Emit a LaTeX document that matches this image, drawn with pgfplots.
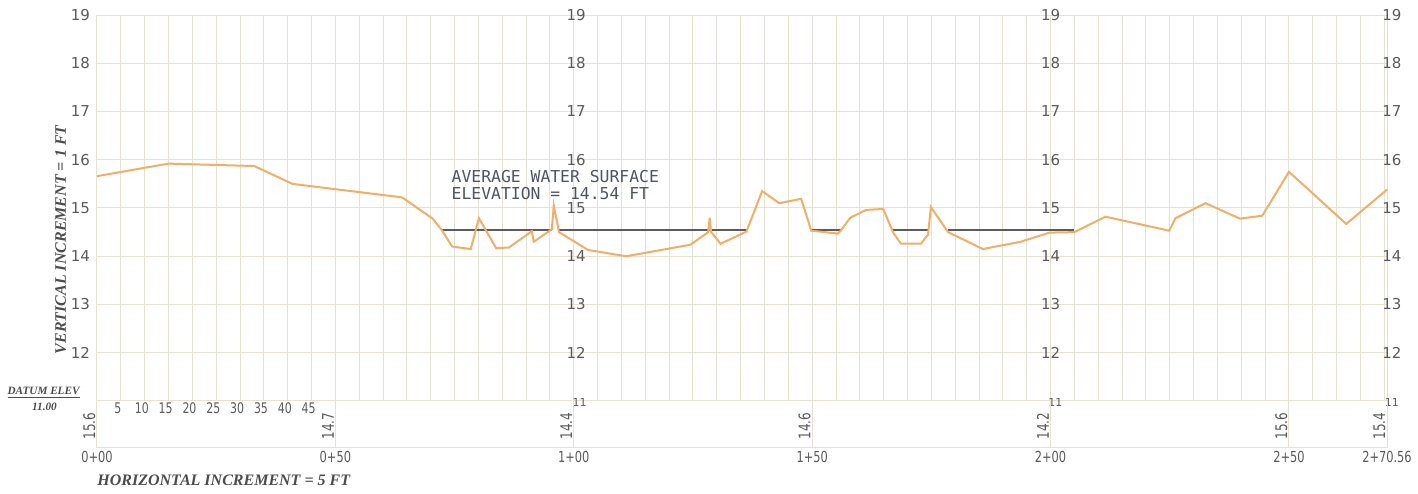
\documentclass[border=0pt]{standalone}
\usepackage{fontspec}
\setmainfont{DejaVu Sans}
\newfontfamily\narrowf{DejaVu Sans}[FakeStretch=0.75]
\newfontfamily\monof{DejaVu Sans Mono}
\newfontfamily\labf{Liberation Serif}
\usepackage{pgfplots}
\pgfplotsset{compat=1.18}

\definecolor{gridc}{RGB}{230,226,210}
\definecolor{profc}{RGB}{241,174,104}
\definecolor{wsc}{RGB}{90,90,96}
\definecolor{txtc}{RGB}{90,90,90}
\definecolor{notec}{RGB}{78,84,98}

\begin{document}
\begin{tikzpicture}
\begin{axis}[
    width=645pt, height=193pt, scale only axis,
    xmin=0, xmax=270.56, ymin=11, ymax=19,
    xtick={0,5,...,270}, xticklabels={},
    ytick={11,...,19}, yticklabels={,12,13,14,15,16,17,18,19},
    yticklabel style={font=\fontsize{7.5}{8}\selectfont, text=txtc},
    grid=major, major grid style={gridc, line width=0.5pt},
    axis line style={gridc, line width=0.5pt},
    major tick length=0pt,
    clip=false,
    unbounded coords=jump,
]
% average water surface
\addplot[wsc, line width=1pt] coordinates {
    (72.4,14.54) (95.4,14.54) (95.6,nan)
    (96.9,14.54) (136.2,14.54) (137,nan)
    (149.8,14.54) (156,14.54) (157,nan)
    (167,14.54) (174.3,14.54) (175,nan)
    (178.5,14.54) (205,14.54)
};
% ground profile
\addplot[profc, line width=1pt] coordinates {
    (0,15.66) (15,15.92) (33,15.87) (41,15.5) (64,15.22) (70.4,14.78)
    (72.4,14.53) (74.5,14.2) (78.4,14.15) (80.1,14.79) (83.7,14.17)
    (86.4,14.18) (91.2,14.52) (91.6,14.3) (95.4,14.56) (95.8,15.05)
    (96.9,14.5) (103,14.13) (111,14.0) (124.5,14.24) (128.2,14.5)
    (128.5,14.8) (128.8,14.5) (130.8,14.26) (136.2,14.51) (139.5,15.35)
    (143.1,15.1) (147.7,15.19) (149.8,14.53) (155.4,14.47) (156,14.53)
    (158,14.8) (161.3,14.96) (164.9,14.98) (167,14.49) (168.6,14.26)
    (172.8,14.26) (174.3,14.45) (174.9,15.02) (178.5,14.5) (185.8,14.15)
    (193.7,14.3) (199.8,14.49) (205,14.5) (211.5,14.82) (224.9,14.53)
    (226.2,14.79) (232.5,15.1) (239.7,14.78) (244.4,14.84) (250,15.75)
    (262,14.67) (270.56,15.38)
};

% repeated elevation labels
\pgfplotsinvokeforeach{12,...,19}{
  \node[font=\fontsize{7.5}{8}\selectfont, text=txtc, inner sep=0] at (axis cs:100.5,#1) {#1};
  \node[font=\fontsize{7.5}{8}\selectfont, text=txtc, inner sep=0] at (axis cs:200,#1) {#1};
  \node[font=\fontsize{7.5}{8}\selectfont, text=txtc, inner sep=0] at (axis cs:271.6,#1) {#1};
}
\node[font=\fontsize{5.5}{6}\selectfont, text=txtc, inner sep=0] at (axis cs:101.2,10.96) {11};
\node[font=\fontsize{5.5}{6}\selectfont, text=txtc, inner sep=0] at (axis cs:201,10.96) {11};
\node[font=\fontsize{5.5}{6}\selectfont, text=txtc, inner sep=0] at (axis cs:271.6,10.96) {11};

% station band
\draw[gridc, line width=0.5pt] (axis cs:0,10.03) -- (axis cs:270.56,10.03);
\draw[gridc, line width=0.5pt] (axis cs:0,11) -- (axis cs:0,10.03);
\draw[gridc, line width=0.5pt] (axis cs:50,11) -- (axis cs:50,10.03);
\draw[gridc, line width=0.5pt] (axis cs:100,11) -- (axis cs:100,10.03);
\draw[gridc, line width=0.5pt] (axis cs:150,11) -- (axis cs:150,10.03);
\draw[gridc, line width=0.5pt] (axis cs:200,11) -- (axis cs:200,10.03);
\draw[gridc, line width=0.5pt] (axis cs:250,11) -- (axis cs:250,10.03);
\draw[gridc, line width=0.5pt] (axis cs:270.56,11) -- (axis cs:270.56,10.03);

\pgfplotsinvokeforeach{5,10,15,20,25,30,35,40,45}{
  \node[font=\narrowf\fontsize{7.3}{7}\selectfont, text=txtc, inner sep=0] at (axis cs:#1-0.6,10.85) {#1};
}

\node[rotate=90, anchor=south, inner sep=0.6pt, font=\narrowf\fontsize{8}{8}\selectfont, text=txtc] at (axis cs:0,10.48) {15.6};
\node[rotate=90, anchor=south, inner sep=0.6pt, font=\narrowf\fontsize{8}{8}\selectfont, text=txtc] at (axis cs:50,10.48) {14.7};
\node[rotate=90, anchor=south, inner sep=0.6pt, font=\narrowf\fontsize{8}{8}\selectfont, text=txtc] at (axis cs:100,10.48) {14.4};
\node[rotate=90, anchor=south, inner sep=0.6pt, font=\narrowf\fontsize{8}{8}\selectfont, text=txtc] at (axis cs:150,10.48) {14.6};
\node[rotate=90, anchor=south, inner sep=0.6pt, font=\narrowf\fontsize{8}{8}\selectfont, text=txtc] at (axis cs:200,10.48) {14.2};
\node[rotate=90, anchor=south, inner sep=0.6pt, font=\narrowf\fontsize{8}{8}\selectfont, text=txtc] at (axis cs:250,10.48) {15.6};
\node[rotate=90, anchor=south, inner sep=0.6pt, font=\narrowf\fontsize{8}{8}\selectfont, text=txtc] at (axis cs:270.56,10.48) {15.4};

\node[font=\narrowf\fontsize{7.6}{7}\selectfont, text=txtc, inner sep=0] at (axis cs:0,9.83) {0+00};
\node[font=\narrowf\fontsize{7.6}{7}\selectfont, text=txtc, inner sep=0] at (axis cs:50,9.83) {0+50};
\node[font=\narrowf\fontsize{7.6}{7}\selectfont, text=txtc, inner sep=0] at (axis cs:100,9.83) {1+00};
\node[font=\narrowf\fontsize{7.6}{7}\selectfont, text=txtc, inner sep=0] at (axis cs:150,9.83) {1+50};
\node[font=\narrowf\fontsize{7.6}{7}\selectfont, text=txtc, inner sep=0] at (axis cs:200,9.83) {2+00};
\node[font=\narrowf\fontsize{7.6}{7}\selectfont, text=txtc, inner sep=0] at (axis cs:250,9.83) {2+50};
\node[font=\narrowf\fontsize{7.6}{7}\selectfont, text=txtc, inner sep=0] at (axis cs:270.56,9.83) {2+70.56};

% axis titles
\node[anchor=west, inner sep=0, font=\labf\bfseries\itshape\fontsize{8}{8}\selectfont, text=black!70] at (axis cs:0,9.36) {HORIZONTAL INCREMENT = 5 FT};
\node[rotate=90, inner sep=0, font=\labf\bfseries\itshape\fontsize{8}{8}\selectfont, text=black!70] at (axis cs:-7.6,14.34) {VERTICAL INCREMENT = 1 FT};
\node[anchor=south, inner sep=0.5pt, font=\labf\bfseries\itshape\fontsize{5.6}{6}\selectfont, text=black!70] at (axis cs:-11.2,11.02) {\underline{DATUM ELEV}};
\node[anchor=north, inner sep=0.5pt, font=\labf\bfseries\itshape\fontsize{5.6}{6}\selectfont, text=black!70] at (axis cs:-11.0,10.98) {11.00};

% note
\node[anchor=west, inner sep=0, font=\monof\fontsize{8.2}{8}\selectfont, text=notec] at (axis cs:74.3,15.65) {AVERAGE WATER SURFACE};
\node[anchor=west, inner sep=0, font=\monof\fontsize{8.2}{8}\selectfont, text=notec] at (axis cs:74.3,15.31) {ELEVATION = 14.54 FT};

\coordinate (bbsw) at (axis cs:-20.34,9.093);
\coordinate (bbne) at (axis cs:277.06,19.311);
\end{axis}
\pgfresetboundingbox
\path[use as bounding box] (bbsw) rectangle (bbne);
\end{tikzpicture}
\end{document}
